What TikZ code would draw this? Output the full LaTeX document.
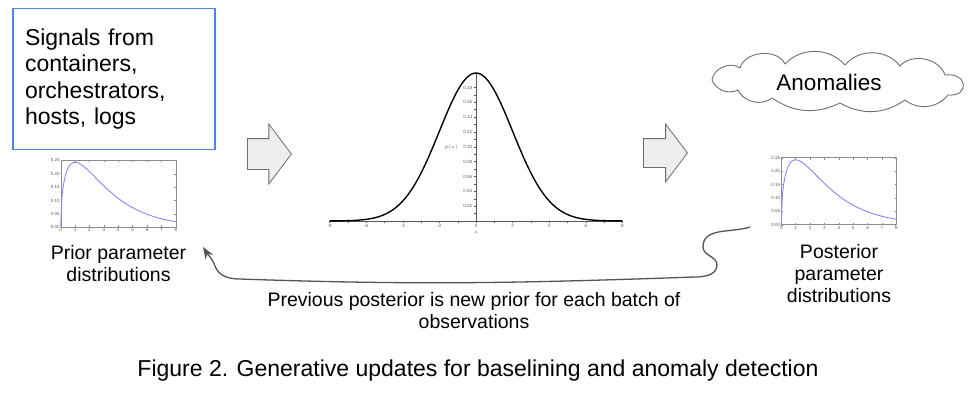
\documentclass[tikz,border=0pt]{standalone}
\usepackage{fontspec}
\setmainfont{Liberation Sans}
\usetikzlibrary{arrows.meta,positioning,shapes.arrows}
\definecolor{BoxBlue}{RGB}{74,134,232}
\definecolor{CurveBlue}{RGB}{135,135,252}
\definecolor{FrameGray}{RGB}{140,140,140}
\definecolor{TickGray}{RGB}{90,90,90}
\definecolor{ArrowFill}{RGB}{238,238,238}
\definecolor{ArrowEdge}{RGB}{110,110,110}
\definecolor{LoopGray}{RGB}{85,85,85}

\tikzset{
  ticktext/.style={font=\fontsize{4.5}{5}\selectfont,text=TickGray,inner sep=1pt},
  note/.style={align=center,inner sep=0pt,font=\fontsize{19.5}{22}\selectfont},
  sigbox/.style={draw=BoxBlue,line width=1.8pt,minimum width=202pt,minimum height=141pt,
    text width=178pt,align=left,inner sep=0pt,font=\fontsize{23}{26.5}\selectfont},
  plotframe/.style={draw=FrameGray,line width=0.5pt,minimum width=115pt,minimum height=67pt,inner sep=0pt},
  blockarrow/.style={single arrow,draw=ArrowEdge,fill=ArrowFill,line width=0.8pt,
    minimum height=44pt,single arrow head extend=14.5pt,
    single arrow tip angle=106,inner sep=0pt},
  cloudline/.style={draw=ArrowEdge,line width=0.9pt,line join=round},
  loopline/.style={LoopGray,line width=1.3pt,-{Stealth[length=12pt,width=9pt]}}
}

% small chi-square plot inside a frame node
\newcommand{\chiplot}[2]{%
  \begin{scope}[shift={(#1.south west)},x=14.375pt,y=268pt]
    \foreach \t in {0,...,8}{
      \draw[FrameGray,line width=0.3pt] (\t,0)--(\t,0.008) (\t,0.25)--(\t,0.242);
      \node[ticktext,below] (#2x\t) at (\t,0) {\t};
    }
    \foreach \v/\s [count=\i] in {0/0.00,0.05/0.05,0.1/0.10,0.15/0.15,0.2/0.20,0.25/0.25}{
      \draw[FrameGray,line width=0.3pt] (0,\v)--(0.12,\v) (8,\v)--(7.88,\v);
      \node[ticktext,left] (#2y\i) at (0,\v) {\s};
    }
    \draw[CurveBlue,line width=0.9pt] plot[smooth,domain=0:8,samples=120]
      (\x,{sqrt(\x)*exp(-\x/2)/2.5066});
  \end{scope}}

\begin{document}
\begin{tikzpicture}[x=1pt,y=1pt]
  \fill[white] (0,0) rectangle (975,-392);
  \useasboundingbox (0,0) rectangle (975,-392);

  \node[sigbox] (signals) at (114,-79) {Signals from\\containers,\\orchestrators,\\hosts, logs};

  \node[plotframe] (priorplot) at (118.5,-193.5) {};
  \chiplot{priorplot}{pr}
  \node[note,below=18pt of priorplot] (prior) {Prior parameter\\distributions};

  \node[blockarrow,anchor=tail] (arrA) at (247,-154) {\rule{0pt}{30pt}};

  % gaussian in the middle
  \coordinate (gauss) at (476,-221);
  \begin{scope}[shift={(gauss)},x=18.3pt,y=742pt]
    \draw[TickGray,line width=0.4pt] (-8,0)--(8,0) (0,0)--(0,0.2);
    \foreach \t in {-8,...,8} \draw[TickGray,line width=0.3pt] (\t,0)--(\t,-0.003);
    \foreach \t [count=\i] in {-8,-6,...,8} \node[ticktext,below] (gx\i) at (\t,-0.003) {\t};
    \foreach \v in {0.01,0.02,...,0.19} \draw[TickGray,line width=0.3pt] (0,\v)--(-0.12,\v);
    \foreach \v [count=\i] in {0.02,0.04,0.06,0.08,0.10,0.12,0.14,0.16,0.18}
      \node[ticktext,left] (gy\i) at (-0.15,\v) {\v};
    \node[ticktext] (gpx) at (-1.35,0.1) {$p(x)$};
    \node[ticktext] (gxl) at (0,-0.016) {$x$};
    \draw[black,line width=1.4pt] plot[smooth,domain=-8:8,samples=121] (\x,{exp(-\x*\x/8)/5.0133});
  \end{scope}

  \node[blockarrow,anchor=tail] (arrB) at (643,-153) {\rule{0pt}{28pt}};

  % cloud drawn by hand round its text
  \node[inner sep=0pt,font=\fontsize{22.5}{26}\selectfont] (anomalies) at (829,-82) {Anomalies};
  \draw[cloudline] (712,-80) to[bend left=60] (740,-68) to[bend left=70] (785,-64)
    to[bend left=48] (845,-65) to[bend left=52] (900,-66) to[bend left=60] (945,-75)
    .. controls (968,-72) and (970,-97) .. (948,-95) to[bend left=45] (905,-100)
    to[bend left=32] (840,-103) to[bend left=30] (772,-98) to[bend left=51] (738,-90)
    to[bend left=47] (712,-80);

  \node[plotframe] (postplot) at (839,-191) {};
  \chiplot{postplot}{po}
  \node[note,below=19pt of postplot] (posterior) {Posterior\\parameter\\distributions};

  \coordinate (loopstart) at (750,-227);
  \coordinate (looptip) at (203,-247);
  \draw[loopline] (loopstart) to[out=198,in=90] (703,-247) to[out=-90,in=90] (717,-265)
    to[out=-90,in=0] (695,-277) to[out=182,in=-2] (240,-279)
    to[out=180,in=-70] (215,-266) to[out=110,in=-58] (looptip);

  \node[note] (feedback) at (474,-310.4) {Previous posterior is new prior for each batch of\\observations};
  \node[font=\fontsize{23}{27}\selectfont,anchor=base,inner sep=0pt] (caption) at (478,-376)
    {Figure 2. Generative updates for baselining and anomaly detection};
\end{tikzpicture}
\end{document}
